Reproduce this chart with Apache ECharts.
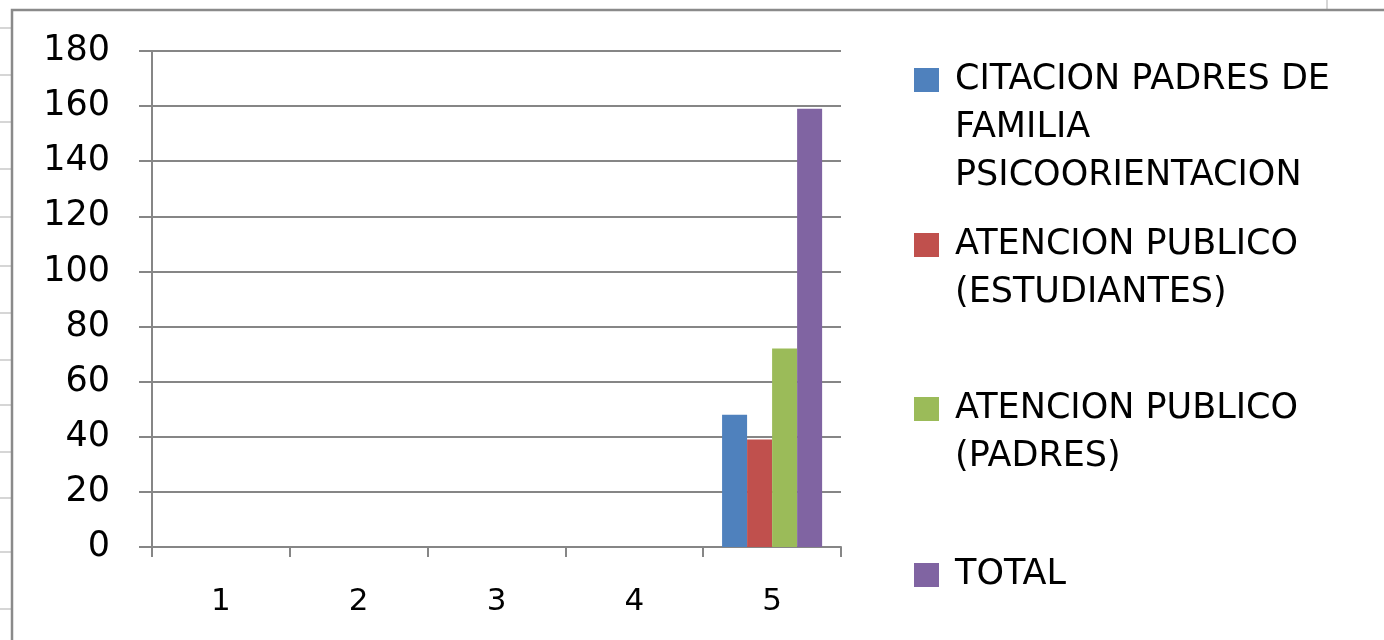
<!DOCTYPE html>
<html>
<head>
<meta charset="utf-8">
<script src="https://cdn.jsdelivr.net/npm/echarts@6/dist/echarts.min.js"></script>
<style>
html,body{margin:0;padding:0;background:#fff;}
#c{width:1384px;height:640px;}
</style>
</head>
<body>
<div id="c"></div>
<script>
// ---- data ----
var categories = ['1', '2', '3', '4', '5'];
var seriesNames = [
  'CITACION PADRES DE FAMILIA PSICOORIENTACION',
  'ATENCION PUBLICO (ESTUDIANTES)',
  'ATENCION PUBLICO (PADRES)',
  'TOTAL'
];
var legendLines = [
  ['CITACION PADRES DE', 'FAMILIA', 'PSICOORIENTACION'],
  ['ATENCION PUBLICO', '(ESTUDIANTES)'],
  ['ATENCION PUBLICO', '(PADRES)'],
  ['TOTAL']
];
var citacionPadres = [null, null, null, null, 48];
var atencionEstudiantes = [null, null, null, null, 39];
var atencionPadres = [null, null, null, null, 72];
var total = [null, null, null, null, 159];
var yMin = 0, yMax = 180, yStep = 20;

// ---- styling ----
var colors = ['#4F81BD', '#C0504D', '#9BBB59', '#8064A2'];
var seriesData = [citacionPadres, atencionEstudiantes, atencionPadres, total];
var axisGray = '#868686';
var FONT = 'DejaVu Sans';
var LH = 48;
var legendCenters = [80, 245, 409, 575];

var legends = seriesNames.map(function (name, i) {
  var lines = legendLines[i];
  var n = lines.length;
  var pre = [];
  for (var k = 0; k < n - 1; k++) pre.push(' ');
  var txt = pre.concat(lines).join('\n');
  return {
    orient: 'vertical',
    left: 914,
    top: legendCenters[i] - 24 - (n - 1) * LH,
    padding: 0,
    itemWidth: 25,
    itemHeight: 24,
    icon: 'rect',
    selectedMode: false,
    data: [name],
    formatter: function () { return txt; },
    textStyle: {
      fontFamily: FONT,
      fontSize: 35,
      lineHeight: LH,
      color: '#000',
      padding: [0, 0, 0, 11]
    }
  };
});

var stubY = [28, 75, 122, 169, 217, 266, 313, 360, 405, 452, 498, 552, 609];
var graphics = stubY.map(function (y) {
  return { type: 'line', shape: { x1: 0, y1: y, x2: 11, y2: y }, style: { stroke: '#d6d6d6', lineWidth: 2 }, silent: true };
});
graphics.push({ type: 'line', shape: { x1: 1327, y1: 0, x2: 1327, y2: 9 }, style: { stroke: '#d6d6d6', lineWidth: 2 }, silent: true });
graphics.push({ type: 'polyline', shape: { points: [[12, 640], [12, 10], [1384, 10]] }, style: { stroke: '#8a8a8a', lineWidth: 2.5, fill: null }, silent: true });

var chart = echarts.init(document.getElementById('c'), null, { renderer: 'canvas' });
chart.setOption({
  backgroundColor: '#fff',
  animation: false,
  color: colors,
  graphic: graphics,
  legend: legends,
  grid: { left: 152, right: 543, top: 51, bottom: 93, containLabel: false },
  xAxis: {
    type: 'category',
    data: categories,
    axisLine: { show: true, lineStyle: { color: axisGray, width: 2 } },
    axisTick: { show: true, length: 10, lineStyle: { color: axisGray, width: 2 } },
    axisLabel: { fontFamily: FONT, fontSize: 31, color: '#000', margin: 39 },
    splitLine: { show: false }
  },
  yAxis: {
    type: 'value',
    min: yMin,
    max: yMax,
    interval: yStep,
    axisLine: { show: true, lineStyle: { color: axisGray, width: 2 } },
    axisTick: { show: true, length: 13, lineStyle: { color: axisGray, width: 2 } },
    axisLabel: { fontFamily: FONT, fontSize: 35, color: '#000', margin: 42, padding: [4, 0, 0, 0] },
    splitLine: { show: true, lineStyle: { color: axisGray, width: 2 } }
  },
  series: seriesNames.map(function (name, i) {
    return {
      name: name,
      type: 'bar',
      data: seriesData[i],
      barGap: '0%',
      barCategoryGap: '27.4%',
      itemStyle: { color: colors[i] }
    };
  })
});
</script>
</body>
</html>
